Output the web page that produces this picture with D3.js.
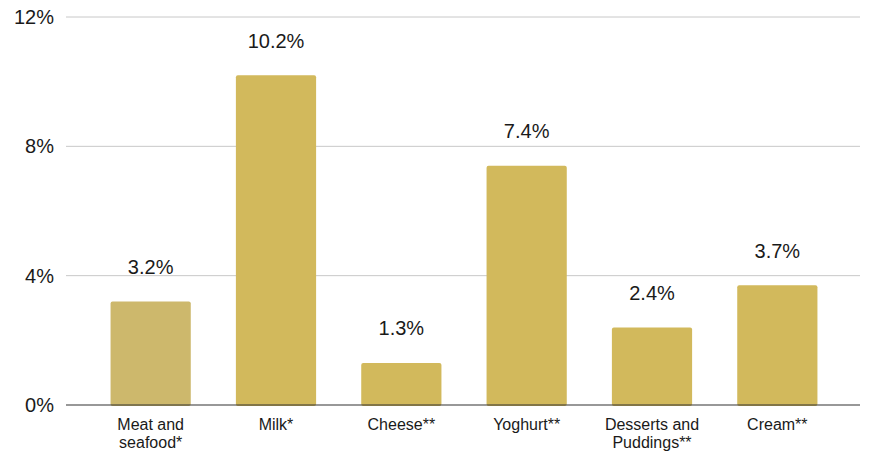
<!DOCTYPE html>
<html>
<head>
<meta charset="utf-8">
<script src="https://cdn.jsdelivr.net/npm/d3@7"></script>
<style>
  html, body { margin: 0; padding: 0; background: #fff; }
  svg { display: block; font-family: "Liberation Sans", Arial, sans-serif; }
</style>
</head>
<body>
<svg id="chart" width="871" height="453"></svg>
<script>
// Category names (line-broken where the axis wraps them)
const categories = [
  ["Meat and", "seafood*"],
  ["Milk*"],
  ["Cheese**"],
  ["Yoghurt**"],
  ["Desserts and", "Puddings**"],
  ["Cream**"]
];
// Percentage values per category
const values = [3.2, 10.2, 1.3, 7.4, 2.4, 3.7];
// Bar fill per category
const barColors = ["#cdb86c", "#d2b95c", "#d2b95c", "#d2b95c", "#d2b95c", "#d2b95c"];
// Y axis ticks
const yTicks = [0, 4, 8, 12];

const svg = d3.select("#chart");
const margin = { top: 17, right: 11, bottom: 48, left: 66 };
const W = 871, H = 453;
const plotW = W - margin.left - margin.right;
const plotH = H - margin.top - margin.bottom;

const g = svg.append("g").attr("transform", `translate(${margin.left},${margin.top})`);

const x = d3.scaleBand()
  .domain(d3.range(categories.length))
  .range([22, plotW - 20])
  .paddingInner(0.36)
  .paddingOuter(0.18);

const y = d3.scaleLinear().domain([0, 12]).range([plotH, 0]);

// Gridlines
g.selectAll("line.grid")
  .data(yTicks.filter(t => t > 0))
  .join("line")
  .attr("class", "grid")
  .attr("x1", 0).attr("x2", plotW)
  .attr("y1", d => y(d)).attr("y2", d => y(d))
  .attr("stroke", "#c8c8c8").attr("stroke-width", 1);

// Y tick labels
g.selectAll("text.ytick")
  .data(yTicks)
  .join("text")
  .attr("class", "ytick")
  .attr("x", -12)
  .attr("y", d => y(d))
  .attr("dy", "0.35em")
  .attr("text-anchor", "end")
  .attr("font-size", 20)
  .attr("fill", "#1a1a1a")
  .text(d => d + "%");

// Bars
g.selectAll("rect.bar")
  .data(values)
  .join("rect")
  .attr("class", "bar")
  .attr("x", (d, i) => x(i))
  .attr("width", x.bandwidth())
  .attr("y", d => y(d))
  .attr("height", d => plotH - y(d) + 1)
  .attr("rx", 2).attr("ry", 2)
  .attr("fill", (d, i) => barColors[i]);

// Baseline
g.append("line")
  .attr("x1", 0).attr("x2", plotW)
  .attr("y1", plotH).attr("y2", plotH)
  .attr("stroke", "#333").attr("stroke-width", 1.2);

// Value labels
g.selectAll("text.val")
  .data(values)
  .join("text")
  .attr("class", "val")
  .attr("x", (d, i) => x(i) + x.bandwidth() / 2)
  .attr("y", d => y(d) - 27.5)
  .attr("text-anchor", "middle")
  .attr("font-size", 20)
  .attr("fill", "#1a1a1a")
  .text(d => d.toFixed(1) + "%");

// Category labels
const cat = g.selectAll("text.cat")
  .data(categories)
  .join("text")
  .attr("class", "cat")
  .attr("text-anchor", "middle")
  .attr("font-size", 16)
  .attr("fill", "#1a1a1a")
  .attr("transform", (d, i) => `translate(${x(i) + x.bandwidth() / 2},${plotH + 25})`);
cat.selectAll("tspan")
  .data(d => d)
  .join("tspan")
  .attr("x", 0)
  .attr("dy", (d, i) => i === 0 ? 0 : 18)
  .text(d => d);
</script>
</body>
</html>
